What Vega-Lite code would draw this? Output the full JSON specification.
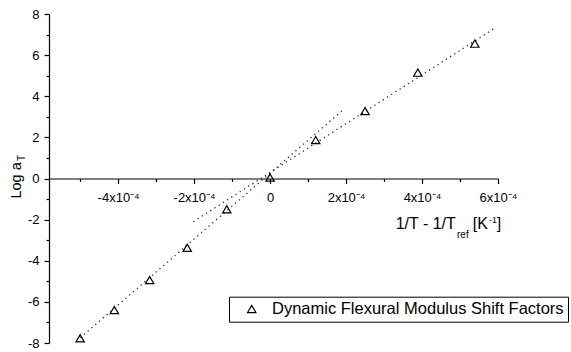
{
  "$schema": "https://vega.github.io/schema/vega-lite/v6.json",
  "width": 449,
  "height": 329,
  "autosize": {"type": "none"},
  "padding": {"left": 49, "top": 14, "right": 73, "bottom": 9},
  "background": "white",
  "config": {
    "view": {"stroke": null},
    "font": "Liberation Sans",
    "axis": {
      "grid": false,
      "title": null,
      "domainColor": "black",
      "domainWidth": 1.2,
      "tickColor": "black",
      "tickWidth": 1.2,
      "labelColor": "black",
      "labelFont": "Liberation Sans",
      "labelFontSize": 13,
      "labelFlush": false,
      "labelOverlap": false
    }
  },
  "datasets": {
    "shift": [
      {"x": -0.000500, "y": -7.77},
      {"x": -0.000410, "y": -6.40},
      {"x": -0.000317, "y": -4.94},
      {"x": -0.000218, "y": -3.37},
      {"x": -0.000114, "y": -1.50},
      {"x": 0.0, "y": 0.05},
      {"x": 0.000120, "y": 1.87},
      {"x": 0.000250, "y": 3.28},
      {"x": 0.000389, "y": 5.15},
      {"x": 0.000539, "y": 6.56}
    ],
    "fits": [
      {"branch": "T above Tref", "x": -0.000500, "y": -7.75},
      {"branch": "T above Tref", "x": 0.0001886, "y": 3.28},
      {"branch": "T below Tref", "x": -0.0002018, "y": -2.10},
      {"branch": "T below Tref", "x": 0.0005947, "y": 7.35}
    ]
  },
  "resolve": {"axis": {"x": "independent", "y": "independent"}},
  "layer": [
    {
      "data": {"name": "fits"},
      "mark": {"type": "line", "strokeDash": [1.3, 3.7], "strokeWidth": 1.3, "color": "#333333"},
      "encoding": {
        "x": {
          "field": "x", "type": "quantitative",
          "scale": {"domain": [-0.000582, 0.0006], "nice": false, "zero": false},
          "axis": {"orient": "bottom", "offset": -164.5, "values": [-0.0005, -0.0003, -0.0001, 0.0001, 0.0003, 0.0005], "labels": false, "domain": false, "tickSize": 3}
        },
        "y": {
          "field": "y", "type": "quantitative",
          "scale": {"domain": [-8, 8], "nice": false, "zero": false},
          "axis": {"orient": "left", "values": [-7, -5, -3, -1, 1, 3, 5, 7], "labels": false, "domain": false, "tickSize": 3}
        },
        "detail": {"field": "branch"}
      }
    },
    {
      "data": {"name": "shift"},
      "mark": {"type": "point", "shape": "triangle-up", "filled": false, "size": 70, "strokeWidth": 1.2, "opacity": 1},
      "encoding": {
        "x": {
          "field": "x", "type": "quantitative",
          "axis": {
            "orient": "bottom", "offset": -164.5,
            "values": [-0.0004, -0.0002, 0, 0.0002, 0.0004, 0.0006],
            "tickSize": 5, "labelPadding": 8,
            "labelExpr": "datum.value == 0 ? '0' : round(datum.value * 10000) + 'x10⁻⁴'"
          }
        },
        "y": {
          "field": "y", "type": "quantitative",
          "axis": {
            "orient": "left",
            "values": [-8, -6, -4, -2, 0, 2, 4, 6, 8],
            "tickSize": 5, "labelPadding": 5,
            "labelExpr": "'' + datum.value"
          }
        },
        "color": {
          "datum": "Dynamic Flexural Modulus Shift Factors",
          "scale": {"range": ["black"]},
          "legend": {
            "title": null,
            "orient": "none",
            "legendX": 180,
            "legendY": 282.7,
            "padding": 4,
            "strokeColor": "black",
            "fillColor": "white",
            "cornerRadius": 0,
            "symbolType": "triangle-up",
            "symbolSize": 70,
            "symbolStrokeWidth": 1.2,
            "symbolOffset": 10.5,
            "labelOffset": 12,
            "labelFont": "Liberation Sans",
            "labelFontSize": 16.5,
            "labelColor": "black",
            "labelLimit": 400
          }
        }
      }
    },
    {
      "data": {"values": [{}]},
      "mark": {"type": "text", "align": "left", "baseline": "alphabetic", "fontSize": 16, "font": "Liberation Sans", "color": "black"},
      "encoding": {
        "x": {"datum": 0.0003305, "type": "quantitative", "axis": null},
        "y": {"datum": -2.456, "type": "quantitative", "axis": null},
        "text": {"value": "1/T - 1/T"}
      }
    },
    {
      "data": {"values": [{}]},
      "mark": {"type": "text", "align": "left", "baseline": "alphabetic", "fontSize": 10, "font": "Liberation Sans", "color": "black"},
      "encoding": {
        "x": {"datum": 0.0004921, "type": "quantitative", "axis": null},
        "y": {"datum": -2.894, "type": "quantitative", "axis": null},
        "text": {"value": "ref"}
      }
    },
    {
      "data": {"values": [{}]},
      "mark": {"type": "text", "align": "left", "baseline": "alphabetic", "fontSize": 16, "font": "Liberation Sans", "color": "black"},
      "encoding": {
        "x": {"datum": 0.0005337, "type": "quantitative", "axis": null},
        "y": {"datum": -2.456, "type": "quantitative", "axis": null},
        "text": {"value": "[K"}
      }
    },
    {
      "data": {"values": [{}]},
      "mark": {"type": "text", "align": "left", "baseline": "alphabetic", "fontSize": 9, "font": "Liberation Sans", "color": "black"},
      "encoding": {
        "x": {"datum": 0.000576, "type": "quantitative", "axis": null},
        "y": {"datum": -2.188, "type": "quantitative", "axis": null},
        "text": {"value": "-1"}
      }
    },
    {
      "data": {"values": [{}]},
      "mark": {"type": "text", "align": "left", "baseline": "alphabetic", "fontSize": 16, "font": "Liberation Sans", "color": "black"},
      "encoding": {
        "x": {"datum": 0.000597, "type": "quantitative", "axis": null},
        "y": {"datum": -2.456, "type": "quantitative", "axis": null},
        "text": {"value": "]"}
      }
    },
    {
      "data": {"values": [{}]},
      "mark": {"type": "text", "align": "left", "baseline": "alphabetic", "angle": 270, "fontSize": 14.5, "font": "Liberation Sans", "color": "black"},
      "encoding": {
        "x": {"datum": -0.0006566, "type": "quantitative", "axis": null},
        "y": {"datum": -0.973, "type": "quantitative", "axis": null},
        "text": {"value": "Log a"}
      }
    },
    {
      "data": {"values": [{}]},
      "mark": {"type": "text", "align": "left", "baseline": "alphabetic", "angle": 270, "fontSize": 10, "font": "Liberation Sans", "color": "black"},
      "encoding": {
        "x": {"datum": -0.0006447, "type": "quantitative", "axis": null},
        "y": {"datum": 0.851, "type": "quantitative", "axis": null},
        "text": {"value": "T"}
      }
    }
  ]
}
